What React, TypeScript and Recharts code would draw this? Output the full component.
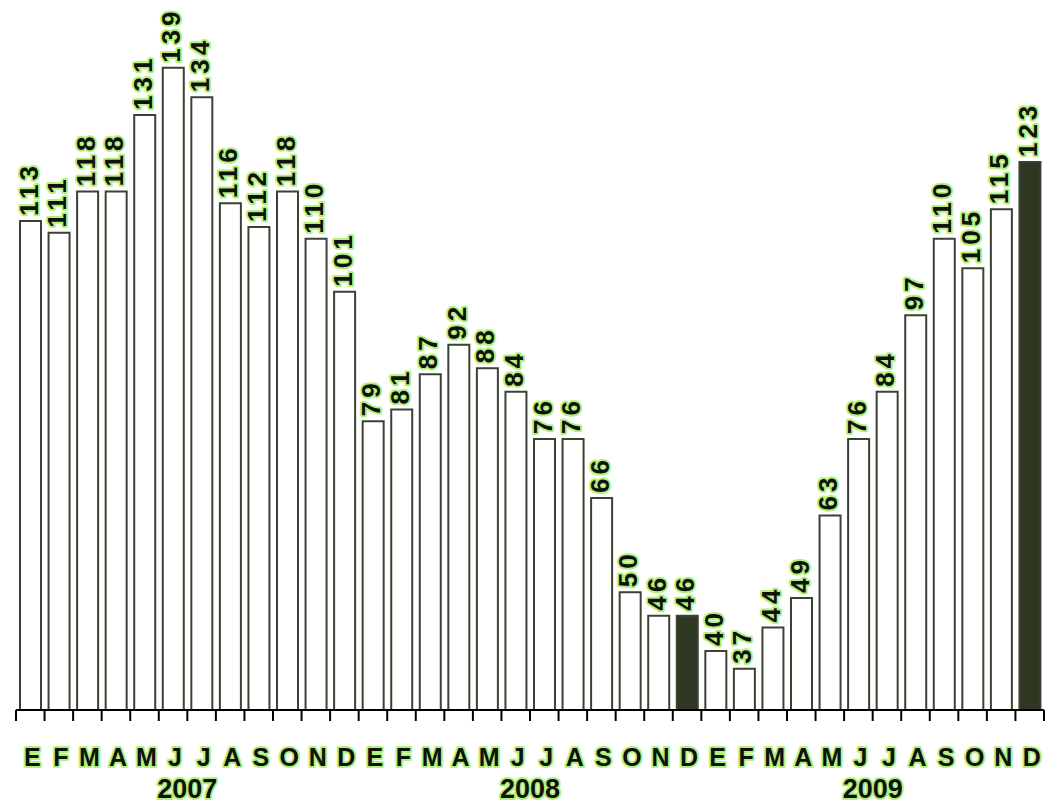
import { Bar, BarChart, Cell, LabelList, XAxis, YAxis } from "recharts";

const months = ["E", "F", "M", "A", "M", "J", "J", "A", "S", "O", "N", "D"];
const years = ["2007", "2008", "2009"];

const values2007 = [113, 111, 118, 118, 131, 139, 134, 116, 112, 118, 110, 101];
const values2008 = [79, 81, 87, 92, 88, 84, 76, 76, 66, 50, 46, 46];
const values2009 = [40, 37, 44, 49, 63, 76, 84, 97, 110, 105, 115, 123];

// months drawn dark
const highlighted = ["2008-11", "2009-11"];

const seriesByYear = [values2007, values2008, values2009];

const data = years.flatMap((year, yi) =>
  months.map((m, mi) => ({
    key: `${year}-${mi}`,
    month: m,
    year,
    value: seriesByYear[yi][mi],
  }))
);

const WIDTH = 1054;
const HEIGHT = 803;
const LEFT = 16;
const RIGHT = 10;
const STEP = (WIDTH - LEFT - RIGHT) / data.length;

const GLOW = "#b2f27a";
const INK = "#111";

const glowText = {
  stroke: GLOW,
  strokeWidth: 4,
  strokeLinejoin: "round" as const,
  paintOrder: "stroke" as const,
  fill: INK,
  fontFamily: "'Liberation Sans', Arial, sans-serif",
  fontWeight: "bold" as const,
};

const MonthTick = (props: any) => {
  const { x, y, index, payload } = props;
  const row = data[index];
  const left = x - STEP / 2;
  return (
    <g>
      <line x1={left} y1={y} x2={left} y2={y + 11} stroke="#000" strokeWidth={2} />
      {index === data.length - 1 && (
        <line x1={x + STEP / 2} y1={y} x2={x + STEP / 2} y2={y + 11} stroke="#000" strokeWidth={2} />
      )}
      <text x={x + 2} y={y + 56} textAnchor="middle" fontSize={25} {...glowText}>
        {row ? row.month : payload.value}
      </text>
      {row && index % 12 === 5 && (
        <text x={x + STEP / 2} y={y + 88} textAnchor="middle" fontSize={27} {...glowText}>
          {row.year}
        </text>
      )}
    </g>
  );
};

const ValueLabel = (props: any) => {
  const { x, y, width, value } = props;
  const cx = x + width / 2 + 7;
  const cy = y - 5;
  return (
    <text
      transform={`translate(${cx}, ${cy}) rotate(-90)`}
      textAnchor="start"
      fontSize={26}
      letterSpacing={4}
      {...glowText}
    >
      {value}
    </text>
  );
};

export default function App() {
  return (
    <div style={{ position: "absolute", left: 0, top: 0, background: "#fff" }}>
      <BarChart
        width={WIDTH}
        height={HEIGHT}
        data={data}
        margin={{ top: 3, right: RIGHT, bottom: 0, left: LEFT }}
      >
        <XAxis
          dataKey="key"
          interval={0}
          height={93}
          tickLine={false}
          tickSize={0}
          tickMargin={0}
          axisLine={{ stroke: "#000", strokeWidth: 2 }}
          tick={<MonthTick />}
        />
        <YAxis hide domain={[30, 150]} allowDataOverflow />
        <Bar
          dataKey="value"
          barSize={21}
          fill="#fff"
          stroke="#3b4232"
          strokeWidth={2}
          isAnimationActive={false}
        >
          {data.map((d) => (
            <Cell
              key={d.key}
              fill={highlighted.includes(d.key) ? "#2e3722" : "#fff"}
            />
          ))}
          <LabelList dataKey="value" content={<ValueLabel />} />
        </Bar>
      </BarChart>
    </div>
  );
}
